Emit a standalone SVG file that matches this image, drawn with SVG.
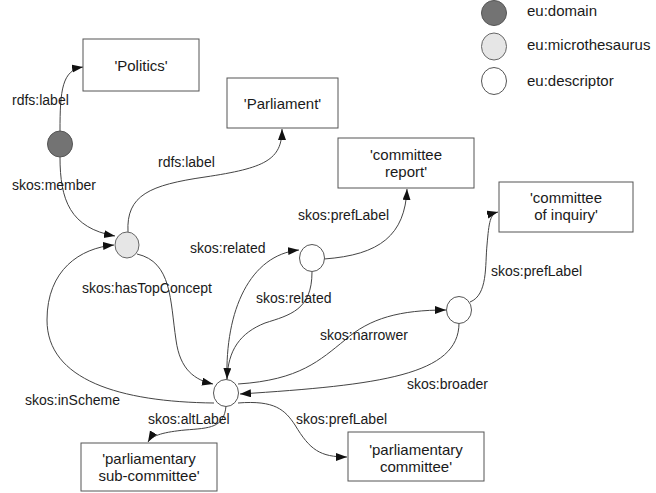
<svg xmlns="http://www.w3.org/2000/svg" width="656" height="493" viewBox="0 0 656 493">
<style>
.box{fill:#fff;stroke:#555;stroke-width:1}
.bt{font-family:"Liberation Sans",Arial,sans-serif;font-size:15px;fill:#1a1a1a;text-anchor:middle}
.lt{font-family:"Liberation Sans",Arial,sans-serif;font-size:15px;fill:#1a1a1a}
.el{font-family:"Liberation Sans",Arial,sans-serif;font-size:14px;fill:#1a1a1a}
.c{stroke:#444;stroke-width:1;fill:none;marker-end:url(#ah)}
.dom{fill:#737373;stroke:#555}
.mic{fill:#e6e6e6;stroke:#666}
.des{fill:#fff;stroke:#555}
</style>
<defs>
<marker id="ah" markerWidth="12" markerHeight="10" refX="11" refY="4" orient="auto" markerUnits="userSpaceOnUse">
<path d="M0,0 L11,4 L0,8 Z" fill="#111"/>
</marker>
</defs>
<rect width="656" height="493" fill="#fff"/>
<g id="legend">
<ellipse class="dom" cx="494" cy="13" rx="12.5" ry="12.5"/>
<text class="lt" x="527" y="16">eu:domain</text>
<ellipse class="mic" cx="494" cy="46.5" rx="12.5" ry="13.5"/>
<text class="lt" x="527" y="50">eu:microthesaurus</text>
<ellipse class="des" cx="494" cy="81" rx="12.5" ry="13.5"/>
<text class="lt" x="527" y="86">eu:descriptor</text>
</g>
<g id="connectors">
<path class="c" d="M60,131 C60,90 62,70 83,67"/>
<path class="c" d="M60,157 C60,200 70,228 115,236"/>
<path class="c" d="M128,232 C126,195 150,185 205,177 C265,168 282,160 282,129"/>
<path class="c" d="M137,254 C172,262 170,300 176,340 C180,370 195,380 213,384"/>
<path class="c" d="M214,403 C120,402 47,380 47,320 C47,270 80,248 114,245"/>
<path class="c" d="M226,406 C224,428 210,428 185,430 C165,432 152,435 148,442"/>
<path class="c" d="M238,403 C275,400 285,410 295,425 C310,450 320,457 347,457"/>
<path class="c" d="M227,380 C225,310 250,255 299,250"/>
<path class="c" d="M312,272 C312,310 290,315 265,323 C240,333 228,350 227,379"/>
<path class="c" d="M324,259 C380,255 405,235 407,189"/>
<path class="c" d="M238,384 C300,380 320,360 345,340 C370,318 400,310 446,310"/>
<path class="c" d="M459,323 C459,375 380,385 240,394"/>
<path class="c" d="M470,302 C488,295 485,265 487,245 C489,222 490,214 498,212"/>
</g>
<g id="edge-labels">
<text class="el" x="12" y="105">rdfs:label</text>
<text class="el" x="12" y="190">skos:member</text>
<text class="el" x="158" y="167">rdfs:label</text>
<text class="el" x="298" y="220">skos:prefLabel</text>
<text class="el" x="190" y="253">skos:related</text>
<text class="el" x="82" y="293">skos:hasTopConcept</text>
<text class="el" x="256" y="303">skos:related</text>
<text class="el" x="491" y="276">skos:prefLabel</text>
<text class="el" x="320" y="340">skos:narrower</text>
<text class="el" x="407" y="389">skos:broader</text>
<text class="el" x="25" y="405">skos:inScheme</text>
<text class="el" x="148" y="424">skos:altLabel</text>
<text class="el" x="296" y="424">skos:prefLabel</text>
</g>
<g id="domain"><ellipse class="dom" cx="60" cy="144" rx="12.5" ry="13"/></g>
<g id="microthesaurus"><ellipse class="mic" cx="127" cy="245" rx="12" ry="13"/></g>
<g id="descriptor-main"><ellipse class="des" cx="226" cy="393" rx="12.5" ry="13.5"/></g>
<g id="descriptor-related"><ellipse class="des" cx="312" cy="258" rx="12.5" ry="13.5"/></g>
<g id="descriptor-narrower"><ellipse class="des" cx="459" cy="310" rx="12.5" ry="13.5"/></g>
<g id="politics"><rect class="box" x="83" y="39" width="116" height="52"/><text class="bt" x="141" y="71">'Politics'</text></g>
<g id="parliament"><rect class="box" x="227" y="78" width="111" height="50"/><text class="bt" x="282.5" y="109">'Parliament'</text></g>
<g id="committee-report"><rect class="box" x="338" y="138" width="136" height="50"/><text class="bt" x="406" y="160">'committee</text><text class="bt" x="406" y="177">report'</text></g>
<g id="committee-inquiry"><rect class="box" x="499" y="182" width="134" height="50"/><text class="bt" x="566" y="203">'committee</text><text class="bt" x="566" y="220">of inquiry'</text></g>
<g id="sub-committee"><rect class="box" x="81" y="443" width="136" height="48"/><text class="bt" x="149" y="464">'parliamentary</text><text class="bt" x="149" y="481">sub-committee'</text></g>
<g id="parliamentary-committee"><rect class="box" x="348" y="432" width="136" height="49"/><text class="bt" x="416" y="455">'parliamentary</text><text class="bt" x="416" y="472">committee'</text></g>
</svg>
